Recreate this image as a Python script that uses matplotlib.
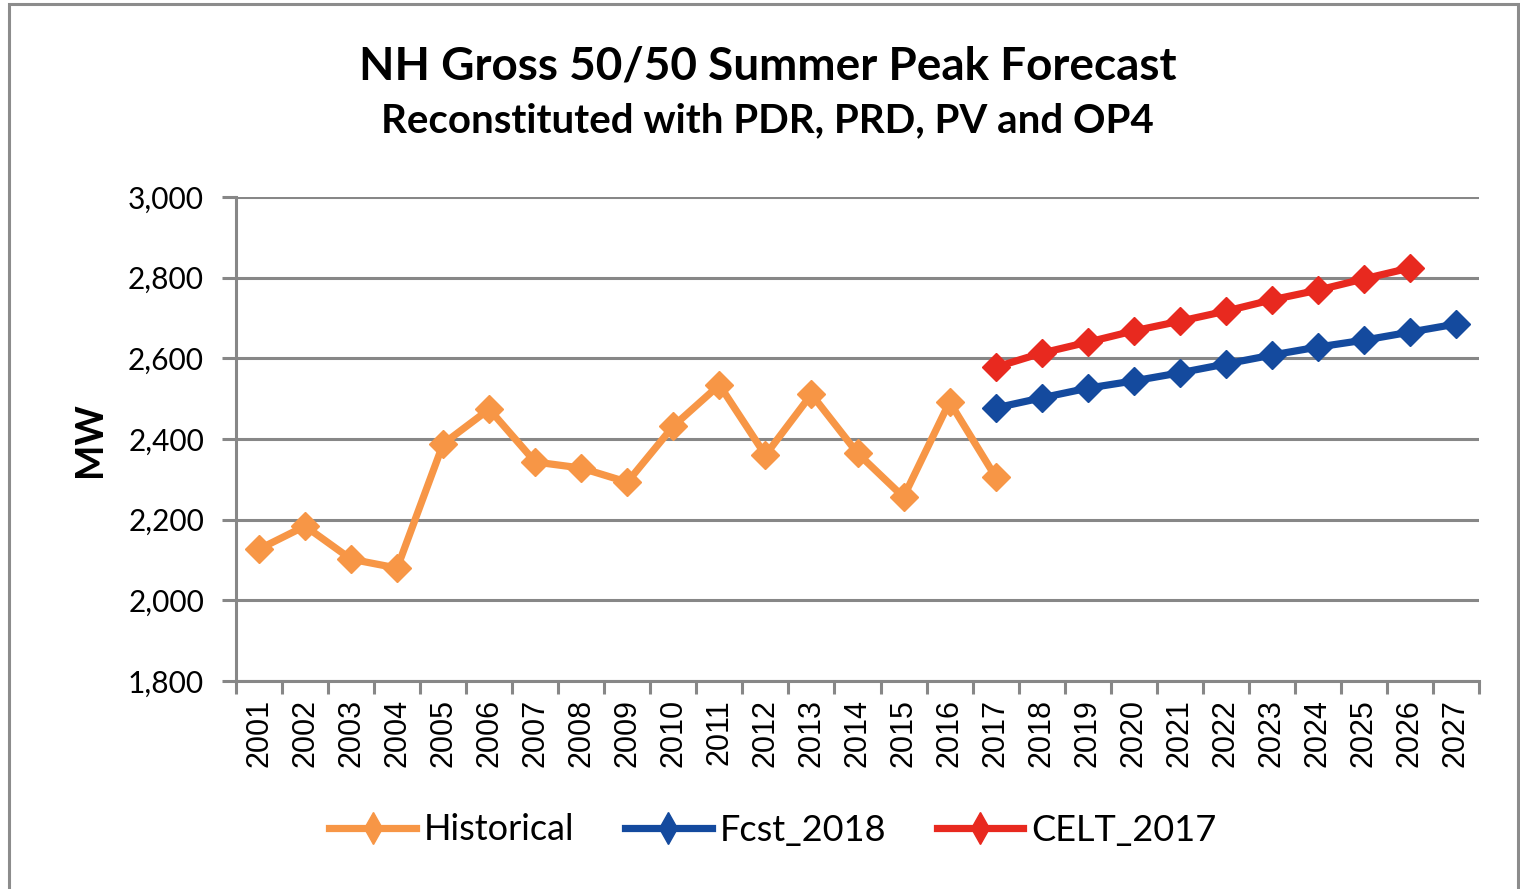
import matplotlib
matplotlib.use("Agg")
import matplotlib.pyplot as plt
from matplotlib.patches import Rectangle
from matplotlib.ticker import FuncFormatter, FixedLocator
import numpy as np

years = [str(y) for y in range(2001, 2028)]
historical_years = list(range(2001, 2018))
historical = [2127, 2184, 2102, 2080, 2388, 2474, 2343, 2328, 2293, 2432,
              2534, 2360, 2511, 2365, 2256, 2492, 2306]
fcst_years = list(range(2017, 2028))
fcst_2018 = [2477, 2502, 2526, 2544, 2564, 2586, 2608, 2628, 2645, 2665, 2685]
celt_years = list(range(2017, 2027))
celt_2017 = [2578, 2613, 2640, 2668, 2692, 2717, 2745, 2769, 2797, 2824]

title = "NH Gross 50/50 Summer Peak Forecast"
subtitle = "Reconstituted with PDR, PRD, PV and OP4"

C_HIST = "#F79646"
C_FCST = "#144A9E"
C_CELT = "#E8291F"
GRID = "#878787"

fig = plt.figure(figsize=(15.2, 8.89), dpi=100)
ax = fig.add_axes([236/1520, 1-681/889, 1243/1520, 484/889])

def idx(yrs):
    return [y - 2001 for y in yrs]

lw = 5.2
ms = 14
ax.plot(idx(historical_years), historical, color=C_HIST, lw=lw, marker="D", ms=ms,
        label="Historical", zorder=3)
ax.plot(idx(fcst_years), fcst_2018, color=C_FCST, lw=lw, marker="D", ms=ms,
        label="Fcst_2018", zorder=3)
ax.plot(idx(celt_years), celt_2017, color=C_CELT, lw=lw, marker="D", ms=ms,
        label="CELT_2017", zorder=3)

ax.set_xlim(-0.5, len(years) - 0.5)
ax.set_ylim(1800, 3000)
ax.set_yticks(np.arange(1800, 3001, 200))
ax.yaxis.set_major_formatter(FuncFormatter(lambda v, p: f"{int(v):,}"))
ax.grid(axis="y", color=GRID, lw=2.2, zorder=1)
ax.set_axisbelow(True)

ax.set_xticks(range(len(years)))
ax.set_xticklabels(years, rotation=90, fontsize=22, family="Liberation Sans")
ax.xaxis.set_minor_locator(FixedLocator(np.arange(-0.5, len(years), 1)))
ax.tick_params(axis="x", which="major", length=0, pad=13)
ax.tick_params(axis="x", which="minor", length=9, width=2.2, color=GRID)
ax.tick_params(axis="y", which="major", length=10, width=2.2, color=GRID, pad=13,
               labelsize=21.5)
for lab in ax.get_yticklabels():
    lab.set_family("Lato")

for s in ["top", "right"]:
    ax.spines[s].set_visible(False)
for s in ["left", "bottom"]:
    ax.spines[s].set_color(GRID)
    ax.spines[s].set_linewidth(2.2)

fig.text(90/1520, 1-440/889, "MW", rotation=90, ha="center", va="center",
         fontsize=27, fontweight="bold", family="Lato")

fig.text(768/1520, 1-66/889, title, ha="center", va="center",
         fontsize=33, fontweight="bold", family="Lato")
fig.text(767/1520, 1-121/889, subtitle, ha="center", va="center",
         fontsize=29, fontweight="bold", family="Lato")

leg = fig.legend(loc="center", bbox_to_anchor=(773/1520, 1-830/889), ncol=3,
                 frameon=False, prop={"family": "Lato", "size": 26},
                 handlelength=2.4, handletextpad=0.22, columnspacing=1.4)
for h in leg.legend_handles:
    h.set_marker("d")
    h.set_markersize(16)

fig.add_artist(Rectangle((9/1520, -0.05), 1509/1520, 1.05 - 4/889,
                         transform=fig.transFigure, fill=False,
                         edgecolor="#8c8c8c", lw=2.2))

fig.savefig("out.png", dpi=100, facecolor="white")
